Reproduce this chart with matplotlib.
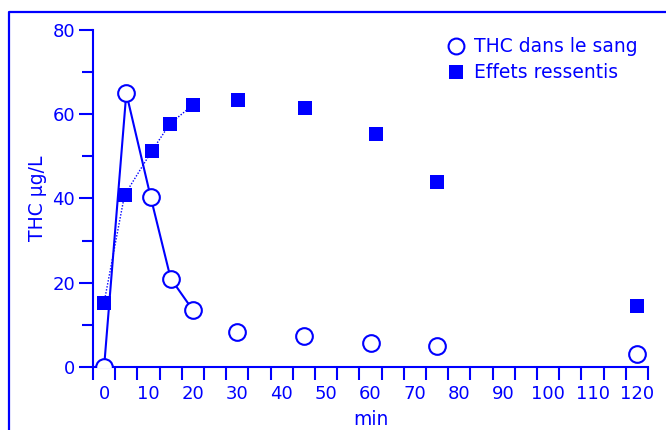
import matplotlib
matplotlib.use("Agg")
import matplotlib.pyplot as plt
from matplotlib.lines import Line2D
from matplotlib.ticker import MultipleLocator, FixedLocator

BLUE = "#0000ff"

# THC dans le sang (µg/L)
thc_min = [0, 5, 10.5, 15, 20, 30, 45, 60, 75, 120]
thc_val = [0, 65, 40.3, 21, 13.5, 8.3, 7.3, 5.8, 5.0, 3.0]

# Effets ressentis
eff_min = [0, 4.6, 10.7, 14.8, 20.1, 30.2, 45.3, 61.3, 75, 120]
eff_val = [15.3, 40.8, 51.2, 57.7, 62.3, 63.4, 61.4, 55.4, 43.8, 14.4]

n_lines = 5  # only the first five points are joined

plt.rcParams['font.family'] = ['DejaVu Sans']

fig = plt.figure(figsize=(6.66, 4.30), dpi=100)
ax = fig.add_axes([93 / 666, 63 / 430, (648 - 93) / 666, 337 / 430])

# lines between the first points
ax.plot(eff_min[:n_lines], eff_val[:n_lines], color=BLUE, lw=1.0, ls=(0, (1, 1.2)), zorder=2)
ax.plot(thc_min[:n_lines], thc_val[:n_lines], color=BLUE, lw=1.5, zorder=2)

ax.plot(eff_min, eff_val, ls='none', marker='s', ms=10.3, mew=0, color=BLUE,
        zorder=3, label='Effets ressentis')
ax.plot(thc_min, thc_val, ls='none', marker='o', ms=12, mew=1.5, mec=BLUE,
        mfc='white', zorder=4, label='THC dans le sang')

ax.set_xlim(-2.5, 122.5)
ax.set_ylim(0, 80)

for s in ['top', 'right']:
    ax.spines[s].set_visible(False)
for s in ['left', 'bottom']:
    ax.spines[s].set_color(BLUE)
    ax.spines[s].set_linewidth(1.5)

ax.xaxis.set_major_locator(MultipleLocator(10))
ax.xaxis.set_minor_locator(FixedLocator([-2.5 + 5 * k for k in range(26)]))
ax.tick_params(axis='x', which='major', length=0, pad=13, labelsize=13, labelcolor=BLUE)
ax.tick_params(axis='x', which='minor', length=9, width=1.5, color=BLUE)

ax.yaxis.set_major_locator(MultipleLocator(20))
ax.yaxis.set_minor_locator(MultipleLocator(10))
ax.tick_params(axis='y', which='major', length=10, width=1.5, color=BLUE,
               pad=3, labelsize=13, labelcolor=BLUE)
ax.tick_params(axis='y', which='minor', length=8, width=1.5, color=BLUE)

ax.set_ylabel('THC µg/L', color=BLUE, fontsize=13.5, labelpad=4)
ax.set_xlabel('min', color=BLUE, fontsize=13.5, labelpad=5)

h, l = ax.get_legend_handles_labels()
leg = ax.legend(h[::-1], l[::-1], loc='upper right', frameon=False,
                bbox_to_anchor=(647 / 666, 1 - 28 / 430), bbox_transform=fig.transFigure,
                fontsize=13.5, borderpad=0, handlelength=1.0, handletextpad=0.45,
                labelspacing=0.38, markerscale=0.95)
for t in leg.get_texts():
    t.set_color(BLUE)

# outer frame
y_top = 1 - 12 / 430
x_left = 9 / 666
fig.add_artist(Line2D([x_left, x_left, 1.0], [0.0, y_top, y_top], color=BLUE, lw=1.6,
                      transform=fig.transFigure))

fig.savefig('out.png', dpi=100)
